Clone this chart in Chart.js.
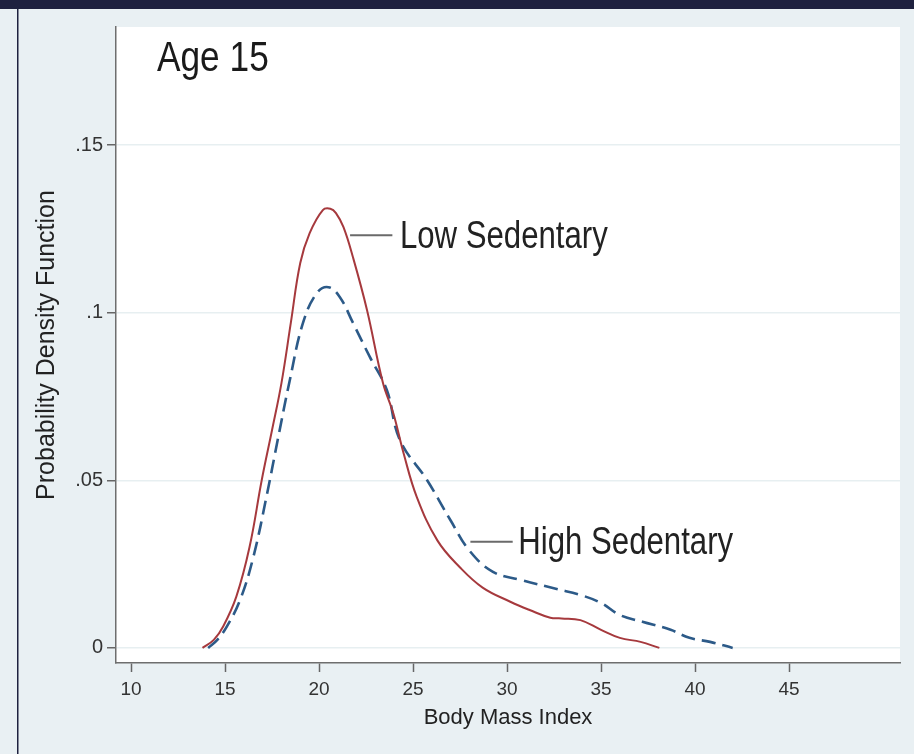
<!DOCTYPE html>
<html>
<head>
<meta charset="utf-8">
<script src="https://cdn.jsdelivr.net/npm/chart.js@4.4.1/dist/chart.umd.min.js"></script>
<style>
  html, body { margin: 0; padding: 0; background: #e9f0f3; }
  canvas { display: block; }
</style>
</head>
<body>
<canvas id="pdfChart" width="914" height="754"></canvas>
<script>
// BMI density curves, age 15
var seriesNames = ['Low Sedentary', 'High Sedentary'];

var bmiLow = [13.8, 14.4, 14.9, 15.6, 16.3, 16.95, 17.5, 18.0, 18.5, 19.0, 19.5, 20.2, 20.6, 20.9, 21.3, 21.8, 22.55, 23.4, 23.95, 24.5, 25.2, 26.3, 27.5, 28.7, 30.2, 31.2, 32.3, 32.9, 33.9, 35.0, 36.0, 37.1, 38.1];
var pdfLow = [0, 0.0024, 0.0064, 0.0153, 0.030, 0.050, 0.065, 0.079, 0.097, 0.1148, 0.1237, 0.1306, 0.1310, 0.1297, 0.1255, 0.1166, 0.1008, 0.079, 0.070, 0.058, 0.045, 0.032, 0.024, 0.018, 0.0137, 0.0113, 0.009, 0.0088, 0.0083, 0.0054, 0.003, 0.0018, 0.0];

var bmiHigh = [14.1, 14.6, 15.1, 15.8, 16.5, 17.2, 17.8, 18.45, 19.15, 19.9, 20.5, 21.1, 21.8, 22.7, 23.6, 24.3, 25.75, 27.0, 28.0, 29.25, 30.7, 32.7, 33.9, 35.0, 36.0, 37.2, 38.7, 39.7, 40.8, 42.0];
var pdfHigh = [0, 0.0025, 0.0064, 0.0143, 0.027, 0.045, 0.062, 0.080, 0.097, 0.106, 0.1076, 0.1047, 0.097, 0.0868, 0.077, 0.062, 0.050, 0.038, 0.029, 0.0227, 0.0203, 0.0175, 0.0158, 0.0134, 0.0098, 0.0078, 0.0054, 0.003, 0.0018, 0];

var xTicks = [10, 15, 20, 25, 30, 35, 40, 45];
var yTicks = [0, 0.05, 0.1, 0.15];
var yTickLabels = ['0', '.05', '.1', '.15'];

var SANS = "'Liberation Sans', Arial, sans-serif";

function toPoints(xs, ys) {
    return xs.map(function (x, i) { return { x: x, y: ys[i] }; });
}

// page frame + white plot region
var framePlugin = {
    id: 'frame',
    beforeDraw: function (chart) {
        var ctx = chart.ctx, a = chart.chartArea;
        ctx.save();
        ctx.fillStyle = '#e9f0f3';
        ctx.fillRect(0, 0, chart.width, chart.height);
        ctx.fillStyle = '#1e213f';
        ctx.fillRect(0, 0, chart.width, 9);
        ctx.fillRect(17, 9, 1.5, chart.height - 9);
        ctx.fillStyle = '#ffffff';
        ctx.fillRect(a.left, a.top, a.right - a.left, a.bottom - a.top);
        ctx.restore();
    }
};

// condensed text, like the narrow Helvetica of the original
function narrowText(ctx, text, x, y, size, color) {
    ctx.save();
    ctx.translate(x, y);
    ctx.scale(0.82, 1);
    ctx.font = size + 'px ' + SANS;
    ctx.fillStyle = color;
    ctx.textAlign = 'left';
    ctx.textBaseline = 'middle';
    ctx.fillText(text, 0, 0);
    ctx.restore();
}

// text labels with leader lines, placed in data units
var labelPlugin = {
    id: 'labels',
    afterDatasetsDraw: function (chart) {
        var ctx = chart.ctx, xs = chart.scales.x, ys = chart.scales.y;
        var items = [
            { text: seriesNames[0], x0: 21.65, x1: 23.9, tx: 24.3, y: 0.1231 },
            { text: seriesNames[1], x0: 28.05, x1: 30.3, tx: 30.6, y: 0.0317 }
        ];
        ctx.save();
        items.forEach(function (it) {
            var py = ys.getPixelForValue(it.y);
            ctx.strokeStyle = '#6a6a6a';
            ctx.lineWidth = 2;
            ctx.beginPath();
            ctx.moveTo(xs.getPixelForValue(it.x0), py);
            ctx.lineTo(xs.getPixelForValue(it.x1), py);
            ctx.stroke();
            narrowText(ctx, it.text, xs.getPixelForValue(it.tx), py + 2, 38, '#222');
        });
        narrowText(ctx, 'Age 15', xs.getPixelForValue(11.38), ys.getPixelForValue(0.1755), 43, '#1a1a1a');
        ctx.restore();
    }
};

new Chart(document.getElementById('pdfChart'), {
    type: 'line',
    data: {
        datasets: [
            {
                label: seriesNames[0],
                data: toPoints(bmiLow, pdfLow),
                borderColor: '#a6393d',
                borderWidth: 2,
                pointRadius: 0,
                tension: 0.4,
                fill: false
            },
            {
                label: seriesNames[1],
                data: toPoints(bmiHigh, pdfHigh),
                borderColor: '#2c5a88',
                borderWidth: 2.6,
                borderDash: [14, 7],
                pointRadius: 0,
                tension: 0.4,
                fill: false
            }
        ]
    },
    options: {
        responsive: false,
        animation: false,
        devicePixelRatio: 1,
        layout: { padding: { left: 0, top: 27, right: 14, bottom: 0 } },
        plugins: { legend: { display: false }, tooltip: { enabled: false } },
        scales: {
            x: {
                type: 'linear',
                min: 9.2,
                max: 50.9,
                afterBuildTicks: function (s) { s.ticks = xTicks.map(function (v) { return { value: v }; }); },
                afterFit: function (s) { s.height = 91; },
                grid: { drawOnChartArea: false, tickLength: 9, tickColor: '#666', tickWidth: 1.5 },
                border: { color: '#6e6e6e', width: 1.5 },
                ticks: { color: '#333', font: { family: SANS, size: 19 }, padding: 6, maxRotation: 0, autoSkip: false },
                title: { display: true, text: 'Body Mass Index', color: '#222', font: { family: SANS, size: 22, lineHeight: 1 }, padding: { top: 0, bottom: 25 } }
            },
            y: {
                min: -0.0045,
                max: 0.1852,
                afterBuildTicks: function (s) { s.ticks = yTicks.map(function (v) { return { value: v }; }); },
                afterFit: function (s) { s.width = 116; },
                grid: { color: '#e7eff1', lineWidth: 1.5, tickLength: 9, tickColor: '#666', tickWidth: 1.5 },
                border: { color: '#6e6e6e', width: 1.5 },
                ticks: {
                    color: '#333',
                    font: { family: SANS, size: 20 },
                    padding: 4,
                    autoSkip: false,
                    callback: function (v, i) { return yTickLabels[i]; }
                },
                title: { display: true, text: 'Probability Density Function', color: '#222', font: { family: SANS, size: 25, lineHeight: 1 }, padding: { top: 35, bottom: 0 } }
            }
        }
    },
    plugins: [framePlugin, labelPlugin]
});
</script>
</body>
</html>
